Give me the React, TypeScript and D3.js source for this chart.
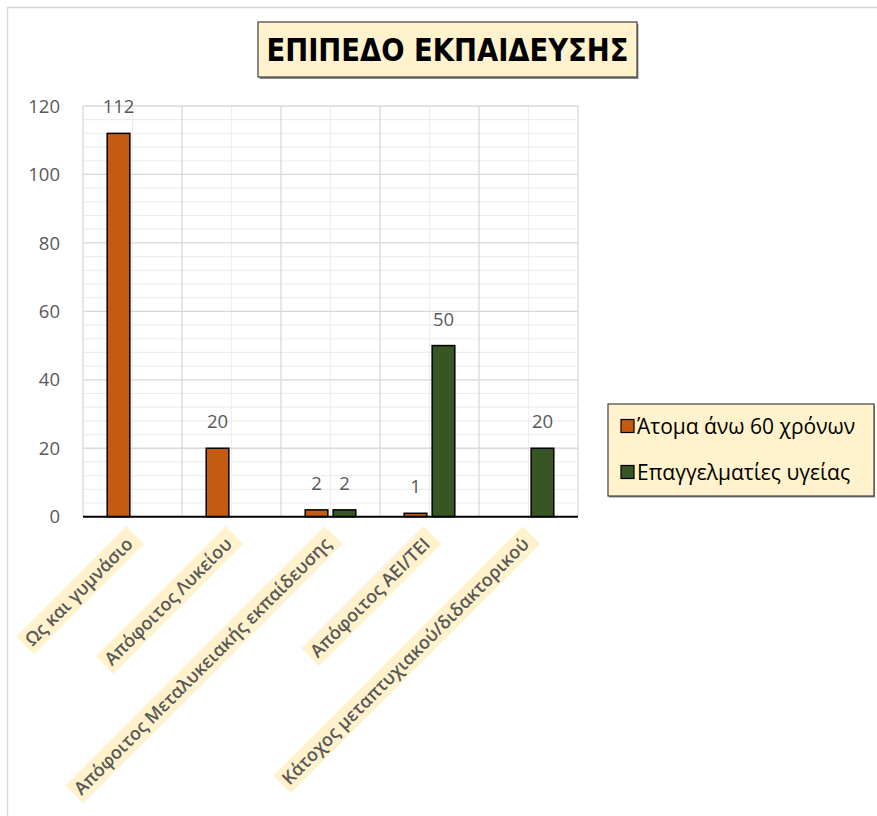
import React, { useEffect, useRef } from "react";
import * as d3 from "d3";

const categories = [
  "Ως και γυμνάσιο",
  "Απόφοιτος Λυκείου",
  "Απόφοιτος Μεταλυκειακής εκπαίδευσης",
  "Απόφοιτος ΑΕΙ/ΤΕΙ",
  "Κάτοχος μεταπτυχιακού/διδακτορικού",
];
const seriesNames = ["Άτομα άνω 60 χρόνων", "Επαγγελματίες υγείας"];
const seniors: (number | null)[] = [112, 20, 2, 1, null];
const professionals: (number | null)[] = [null, null, 2, 50, 20];
const seriesColors = ["#C55A11", "#375623"];
const yTicks = [0, 20, 40, 60, 80, 100, 120];
const title = "ΕΠΙΠΕΔΟ ΕΚΠΑΙΔΕΥΣΗΣ";

const W = 877;
const H = 816;
const cream = "#FFF2CC";

export default function App() {
  const ref = useRef<SVGSVGElement | null>(null);

  useEffect(() => {
    const svg = d3.select(ref.current);
    svg.selectAll("*").remove();

    const plot = { left: 83, right: 578, top: 106, bottom: 516.7 };
    const x = d3.scaleBand<string>().domain(categories).range([plot.left, plot.right]).padding(0);
    const bw = x.bandwidth();
    const inner = d3
      .scaleBand<string>()
      .domain(seriesNames)
      .range([bw / 2 - 25.3, bw / 2 + 25.3])
      .paddingInner(0.19)
      .paddingOuter(0);
    const y = d3.scaleLinear().domain([0, 120]).range([plot.bottom, plot.top]);

    // outer border
    svg.append("rect").attr("x", 0).attr("y", 0).attr("width", W).attr("height", H).attr("fill", "#fff");
    svg.append("line").attr("x1", 7).attr("x2", W).attr("y1", 7.5).attr("y2", 7.5).attr("stroke", "#d9d9d9").attr("stroke-width", 1.5);
    svg.append("line").attr("x1", 7.5).attr("x2", 7.5).attr("y1", 7).attr("y2", H).attr("stroke", "#d9d9d9").attr("stroke-width", 1.5);

    // grid
    const g = svg.append("g");
    const minor = d3.range(0, 121, 4);
    g.selectAll("line.hminor")
      .data(minor.filter((v) => v % 20 !== 0))
      .join("line")
      .attr("x1", plot.left)
      .attr("x2", plot.right)
      .attr("y1", (d) => y(d))
      .attr("y2", (d) => y(d))
      .attr("stroke", "#eeeeee")
      .attr("stroke-width", 1.2);
    g.selectAll("line.vminor")
      .data(categories)
      .join("line")
      .attr("x1", (d) => (x(d) as number) + bw / 2)
      .attr("x2", (d) => (x(d) as number) + bw / 2)
      .attr("y1", plot.top)
      .attr("y2", plot.bottom)
      .attr("stroke", "#eeeeee")
      .attr("stroke-width", 1.2);
    g.selectAll("line.hmajor")
      .data(yTicks.filter((v) => v > 0))
      .join("line")
      .attr("x1", plot.left)
      .attr("x2", plot.right)
      .attr("y1", (d) => y(d))
      .attr("y2", (d) => y(d))
      .attr("stroke", "#d9d9d9")
      .attr("stroke-width", 1.3);
    const bounds = categories.map((c) => x(c) as number).concat([plot.right]);
    g.selectAll("line.vmajor")
      .data(bounds)
      .join("line")
      .attr("x1", (d) => d)
      .attr("x2", (d) => d)
      .attr("y1", plot.top)
      .attr("y2", plot.bottom)
      .attr("stroke", "#d9d9d9")
      .attr("stroke-width", 1.3);

    // y tick labels
    svg
      .append("g")
      .selectAll("text")
      .data(yTicks)
      .join("text")
      .attr("x", 60)
      .attr("y", (d) => y(d))
      .attr("dy", "0.36em")
      .attr("text-anchor", "end")
      .attr("font-family", "'Open Sans', sans-serif")
      .attr("font-size", 18.5)
      .attr("fill", "#595959")
      .text((d) => String(d));

    // bars
    const seriesData = [seniors, professionals];
    seriesData.forEach((vals, si) => {
      const sName = seriesNames[si];
      const items = categories
        .map((c, i) => ({ c, v: vals[i] }))
        .filter((d) => d.v !== null) as { c: string; v: number }[];
      const bg = svg.append("g");
      bg.selectAll("rect")
        .data(items)
        .join("rect")
        .attr("x", (d) => (x(d.c) as number) + (inner(sName) as number))
        .attr("y", (d) => y(d.v))
        .attr("width", inner.bandwidth())
        .attr("height", (d) => y(0) - y(d.v))
        .attr("fill", seriesColors[si])
        .attr("stroke", "#000")
        .attr("stroke-width", 1.5);
      bg.selectAll("text")
        .data(items)
        .join("text")
        .attr("x", (d) => (x(d.c) as number) + (inner(sName) as number) + inner.bandwidth() / 2)
        .attr("y", (d) => y(d.v) - 20)
        .attr("text-anchor", "middle")
        .attr("font-family", "'Open Sans', sans-serif")
        .attr("font-size", 18.5)
        .attr("fill", "#595959")
        .text((d) => String(d.v));
    });

    // x axis line
    svg
      .append("line")
      .attr("x1", plot.left)
      .attr("x2", plot.right)
      .attr("y1", y(0))
      .attr("y2", y(0))
      .attr("stroke", "#000")
      .attr("stroke-width", 2);

    // x labels rotated with cream background
    const lg = svg.append("g");
    categories.forEach((c) => {
      const cx = (x(c) as number) + bw / 2;
      const grp = lg.append("g").attr("transform", `translate(${cx},538) rotate(-45)`);
      const rect = grp.append("rect").attr("fill", cream);
      const t = grp
        .append("text")
        .attr("x", -4)
        .attr("y", 0)
        .attr("dy", "0.35em")
        .attr("text-anchor", "end")
        .attr("font-family", "'Open Sans', sans-serif")
        .attr("font-weight", 600)
        .attr("font-size", 18)
        .attr("fill", "#595959")
        .text(c);
      const len = (t.node() as SVGTextElement).getComputedTextLength();
      rect
        .attr("x", -len - 8)
        .attr("y", -12.5)
        .attr("width", len + 12)
        .attr("height", 25);
    });

    // title
    const tb = { x: 258, y: 22, w: 379, h: 55 };
    svg.append("rect").attr("x", tb.x + 1.5).attr("y", tb.y + 2).attr("width", tb.w).attr("height", tb.h).attr("fill", "#8a8a8a");
    svg
      .append("rect")
      .attr("x", tb.x)
      .attr("y", tb.y)
      .attr("width", tb.w)
      .attr("height", tb.h)
      .attr("fill", cream)
      .attr("stroke", "#404040")
      .attr("stroke-width", 1.2);
    svg
      .append("text")
      .attr("x", tb.x + tb.w / 2)
      .attr("y", tb.y + tb.h / 2)
      .attr("dy", "0.36em")
      .attr("text-anchor", "middle")
      .attr("font-family", "'Liberation Sans Narrow', 'DejaVu Sans Condensed', sans-serif")
      .attr("font-weight", "bold")
      .attr("font-size", 31)
      .attr("fill", "#000")
      .attr("textLength", 362)
      .attr("lengthAdjust", "spacingAndGlyphs")
      .text(title);

    // legend
    const lb = { x: 608, y: 404, w: 266, h: 92 };
    svg.append("rect").attr("x", lb.x + 1).attr("y", lb.y + 1.5).attr("width", lb.w).attr("height", lb.h).attr("fill", "#8a8a8a");
    svg
      .append("rect")
      .attr("x", lb.x)
      .attr("y", lb.y)
      .attr("width", lb.w)
      .attr("height", lb.h)
      .attr("fill", cream)
      .attr("stroke", "#404040")
      .attr("stroke-width", 1.2);
    const legendY = [426, 472];
    seriesNames.forEach((s, i) => {
      svg
        .append("rect")
        .attr("x", 621)
        .attr("y", legendY[i] - 6.5)
        .attr("width", 13)
        .attr("height", 13)
        .attr("fill", seriesColors[i])
        .attr("stroke", "#000")
        .attr("stroke-width", 1.2);
      svg
        .append("text")
        .attr("x", 637)
        .attr("y", legendY[i])
        .attr("dy", "0.36em")
        .attr("font-family", "'Open Sans', sans-serif")
        .attr("font-size", 21)
        .attr("fill", "#000")
        .text(s);
    });
  }, []);

  return (
    <svg
      ref={ref}
      width={W}
      height={H}
      style={{ position: "absolute", left: 0, top: 0, display: "block" }}
    />
  );
}
